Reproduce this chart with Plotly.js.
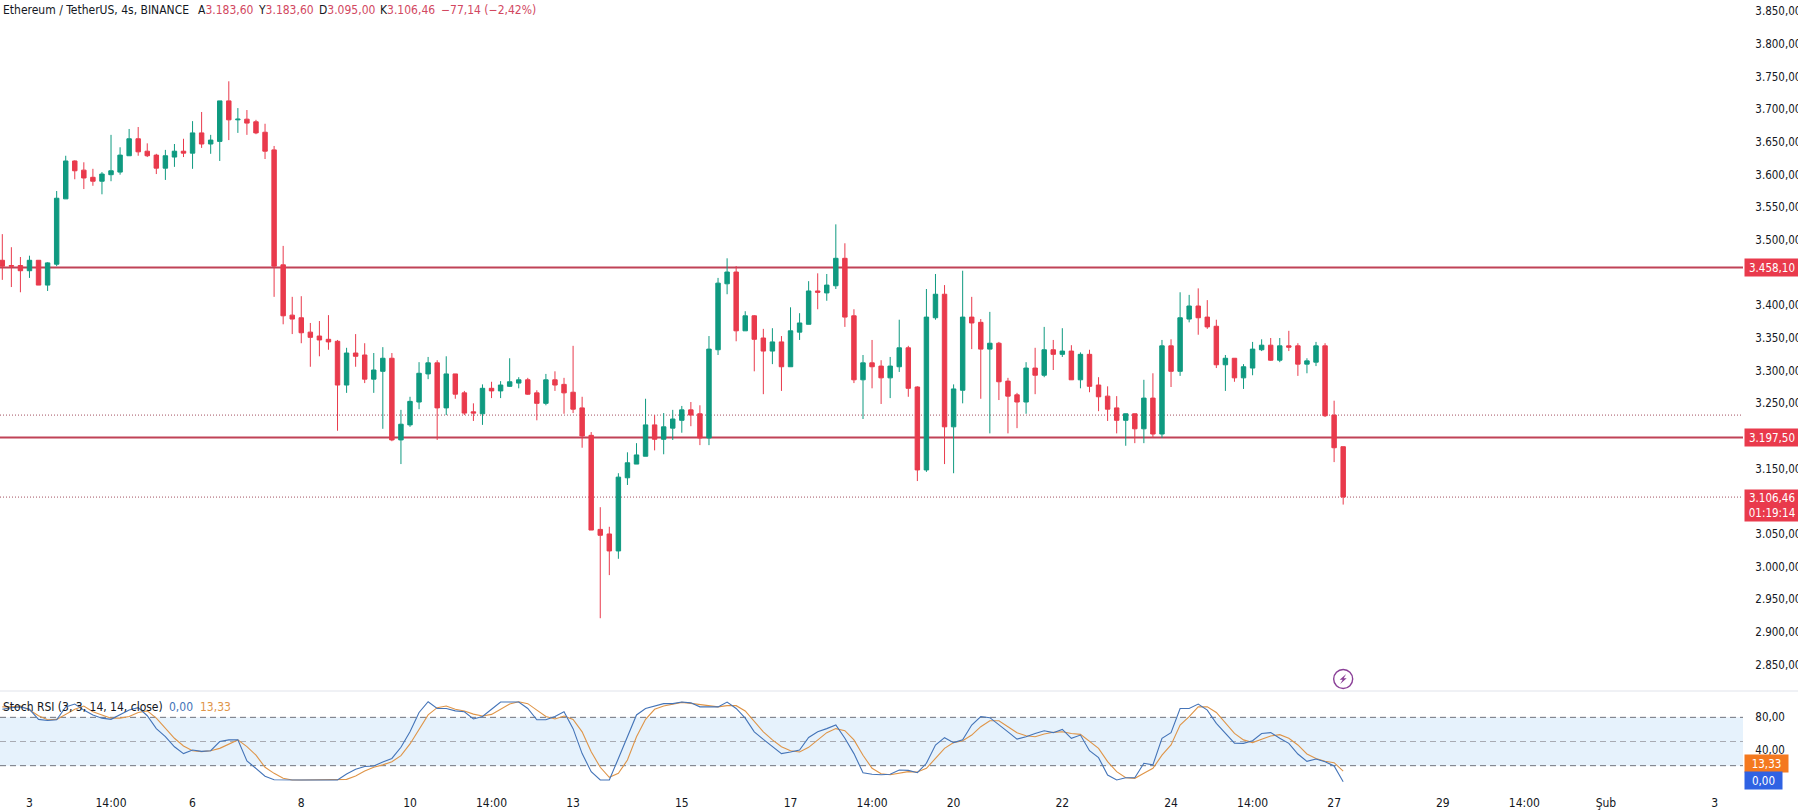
<!DOCTYPE html>
<html><head><meta charset="utf-8">
<script src="https://cdn.plot.ly/plotly-3.0.1.min.js"></script>
<style>html,body{margin:0;padding:0;background:#fff;overflow:hidden}#c{width:1798px;height:810px}</style>
</head><body><div id="c"></div>
<script>
const opens=[3469,3461,3461,3453,3469,3431,3463,3563,3621,3607,
3596,3590,3600,3604,3629,3655,3636,3630,3610,3627,
3636,3633,3664,3647,3651,3713,3684,3685,3681,3665,
3638,3462,3385,3381,3359,3353,3348,3345,3278,3327,
3324,3287,3299,3319,3194,3217,3252,3295,3312,3243,
3295,3266,3237,3234,3273,3269,3276,3281,3286,3266,
3250,3286,3279,3267,3243,3201,3057,3050,3024,3136,
3157,3169,3217,3195,3212,3224,3240,3234,3197,3332,
3433,3451,3361,3384,3350,3330,3344,3306,3359,3371,
3422,3419,3430,3472,3384,3286,3312,3307,3289,3306,
3335,3275,3148,3381,3417,3214,3270,3382,3374,3333,
3342,3284,3263,3252,3304,3293,3332,3325,3330,3286,
3325,3278,3261,3243,3224,3234,3211,3258,3203,3338,
3299,3379,3399,3382,3368,3309,3319,3289,3304,3332,
3339,3316,3338,3338,3310,3313,3338,3232,3183.6];
const closes=[3460,3460,3453,3469,3431,3465,3564,3621,3606,3595,
3590,3601,3606,3630,3655,3635,3629,3610,3629,3636,
3633,3664,3647,3653,3713,3684,3685,3679,3664,3636,
3460,3384,3379,3358,3351,3347,3344,3278,3327,3322,
3287,3301,3319,3194,3218,3253,3296,3312,3243,3295,
3264,3235,3235,3273,3269,3278,3283,3286,3264,3250,
3286,3278,3266,3241,3200,3056,3048,3024,3137,3159,
3171,3217,3195,3214,3226,3240,3232,3197,3333,3434,
3451,3361,3384,3348,3330,3344,3306,3361,3373,3422,
3420,3431,3472,3382,3286,3312,3306,3289,3307,3335,
3273,3148,3382,3417,3214,3272,3382,3373,3333,3342,
3283,3261,3252,3304,3293,3332,3325,3330,3286,3325,
3276,3260,3241,3224,3234,3211,3258,3203,3338,3299,
3381,3399,3381,3367,3309,3319,3289,3306,3333,3339,
3316,3338,3336,3310,3315,3338,3231,3182,3106.46];
const highs=[3509,3489,3474,3476,3469,3466,3575,3629,3622,3619,
3609,3604,3661,3642,3670,3673,3648,3632,3638,3647,
3655,3682,3696,3661,3713,3743,3702,3699,3684,3678,
3644,3491,3413,3414,3373,3376,3385,3347,3335,3356,
3342,3327,3336,3327,3240,3260,3313,3321,3316,3322,
3295,3269,3250,3279,3283,3284,3319,3290,3289,3270,
3295,3299,3289,3338,3260,3206,3091,3061,3143,3175,
3189,3257,3232,3235,3240,3246,3252,3247,3353,3442,
3472,3460,3391,3385,3364,3365,3353,3397,3388,3437,
3449,3448,3524,3495,3394,3324,3347,3316,3321,3378,
3338,3276,3425,3448,3431,3279,3453,3413,3379,3390,
3344,3289,3266,3313,3335,3367,3347,3365,3339,3328,
3332,3290,3276,3261,3234,3234,3286,3296,3347,3348,
3420,3416,3426,3408,3378,3324,3319,3310,3344,3348,
3350,3350,3361,3342,3319,3344,3342,3254,3183.6];
const lows=[3439,3428,3420,3442,3431,3422,3460,3563,3593,3578,
3583,3570,3590,3600,3629,3629,3627,3601,3592,3612,
3627,3609,3641,3632,3621,3653,3664,3661,3662,3624,
3413,3371,3356,3342,3306,3322,3332,3208,3266,3306,
3281,3266,3211,3192,3157,3214,3241,3287,3194,3232,
3257,3232,3223,3217,3258,3258,3275,3273,3263,3224,
3247,3269,3234,3235,3182,3056,2921,2987,3012,3125,
3157,3169,3178,3172,3194,3205,3215,3186,3186,3324,
3417,3345,3361,3299,3264,3310,3269,3306,3347,3371,
3394,3407,3425,3367,3281,3226,3273,3249,3258,3298,
3260,3131,3145,3378,3157,3143,3250,3333,3257,3204,
3255,3204,3212,3234,3264,3290,3301,3321,3286,3273,
3267,3238,3223,3204,3185,3189,3189,3197,3197,3275,
3292,3374,3355,3364,3304,3269,3283,3272,3293,3330,
3315,3313,3330,3292,3296,3307,3229,3160,3095];
const stochK=[90,92,93,90,77.5,76,77,93,96.5,89,
83,79,77.5,83,89,92,82,66,56,43.5,
35,39.5,37.8,38.6,50,52,52,26,17,7,
2.6,2.2,2.2,2.2,2.2,2.2,2.2,2.2,9.7,15.5,
19,19.6,24.6,29,42.8,62,86,99.4,91,91,
88,87,78,81,90,99,99,99,91,77,
77,81,87,66,35,12.6,2.2,2.2,29,56,
83,91,94,97,97,99,98,93,93,93,
99,91,79,62,52.7,43.6,35,37,39.5,55,
62,66,70.5,54,35,11.3,9.3,8.8,9.3,14.6,
14.2,11.3,23,45.7,54.8,48.6,52,70.5,81,79.6,
71.3,62,53,56,60,63.4,61,65,54,58,
38.6,30,8.4,2.2,5,5,23,21,54,61,
91,91,96.5,89,72.5,60,48,47.7,51,60,
61,54,47.7,34.5,25.4,28.3,25,19.6,0];
const stochD=[93,93,94,89,82,77,77.5,84,90,94,
87,83,79,79,81,86,88,79,66,54,
44.4,38.6,37.4,38.6,41.5,46.5,52,43.6,33,18,
10.5,4.3,2.2,2.2,2.2,2.2,2.2,2.2,3,7.2,
13.4,18,21,25,32.4,47,65,83,92,94,
90,87.8,84,81.6,83.7,90,96.5,99.4,97,89,
81,78,81.6,77.5,62,37.4,18,5.5,10.5,27,
56,77.5,90,94,96,98.6,97.4,96,94.5,93,
94.5,94.5,88,74.6,62,52,43.6,38.6,37,42.8,
52,61,66,63.4,52,33,16.7,10,8.8,10.5,
12.6,12.2,16.7,29,41.5,48.6,51,58,68.4,75.8,
75.8,68.4,61,57.2,56,59.3,61.4,62.2,60,58.9,
49.8,41.5,25,12.6,5,4.3,10.5,16.7,33,45.7,
70.5,81,93,93,86,72.5,60,52,48.6,52.7,
56.8,58.5,54,45.7,34.5,29,25.4,23.7,13.33];
const timeTickBars=[3,12,21,33,45,54,63,75,87,96,105,117,129,138,147,159,168,177,189];
const timeTickLabels=["3","14:00","6","8","10","14:00","13","15","17","14:00","20","22","24","14:00","27","29","14:00","Şub","3"];
const priceTicks=[3850,3800,3750,3700,3650,3600,3550,3500,3400,3350,3300,3250,3150,3050,3000,2950,2900,2850];
const priceTickLabels=["3.850,00","3.800,00","3.750,00","3.700,00","3.650,00","3.600,00","3.550,00","3.500,00","3.400,00","3.350,00","3.300,00","3.250,00","3.150,00","3.050,00","3.000,00","2.950,00","2.900,00","2.850,00"];
const stochTicks=[80,40];
const stochTickLabels=["80,00","40,00"];
const stochBands=[80,50,20];
const resistance=3458.10, support=3197.50, prevClose=3232, lastClose=3106.46;

const FONT='"DejaVu Sans Condensed","DejaVu Sans",sans-serif', INK='#131722', RED='#e93a4c', GREEN='#0f9a80';
const PW=1743, PH=788;
const px=v=>v/PW, py=v=>(PH-v)/PH;
const bars=opens.map((_,i)=>i);
const traces=[
 {type:'candlestick',x:bars,open:opens,high:highs,low:lows,close:closes,xaxis:'x',yaxis:'y',whiskerwidth:0,
  increasing:{line:{color:GREEN,width:1},fillcolor:GREEN},decreasing:{line:{color:RED,width:1},fillcolor:RED},hoverinfo:'skip',showlegend:false},
 {type:'scatter',mode:'lines',x:bars,y:stochD,xaxis:'x',yaxis:'y2',line:{color:'#df9548',width:1.1},hoverinfo:'skip',showlegend:false},
 {type:'scatter',mode:'lines',x:bars,y:stochK,xaxis:'x',yaxis:'y2',line:{color:'#4474b8',width:1.1},hoverinfo:'skip',showlegend:false}
];
const hline=(v,style)=>({type:'line',xref:'paper',x0:0,x1:1,yref:'y',y0:v,y1:v,layer:'below',line:style});
const shapes=[
 hline(resistance,{color:'#c04257',width:2}),
 hline(support,{color:'#c04257',width:2}),
 hline(prevClose,{color:'#a2505f',width:1,dash:'1px,2px'}),
 hline(lastClose,{color:'#a2505f',width:1,dash:'1px,2px'}),
 {type:'rect',xref:'paper',x0:0,x1:1,yref:'y2',y0:stochBands[2],y1:stochBands[0],layer:'below',fillcolor:'#e6f2fc',line:{width:0}},
 ...stochBands.map((v,k)=>({type:'line',xref:'paper',x0:0,x1:1,yref:'y2',y0:v,y1:v,layer:'below',line:{color:k==1?'#a8abb3':'#6f727c',width:1,dash:'6px,4px'}})),
 {type:'line',xref:'paper',x0:0,x1:1798/PW,yref:'paper',y0:py(691),y1:py(691),line:{color:'#e0e3eb',width:1}},
 {type:'circle',xref:'x',yref:'y',xsizemode:'pixel',ysizemode:'pixel',xanchor:148,yanchor:2828,x0:-9.5,x1:9.5,y0:-9.5,y1:9.5,line:{color:'#8a3f97',width:1.4},fillcolor:'rgba(0,0,0,0)'},
 {type:'path',xref:'x',yref:'y',xsizemode:'pixel',ysizemode:'pixel',xanchor:148,yanchor:2828,path:'M 3 5 L -3.5 -0.8 L -0.5 -0.8 L -3 -5 L 3.5 0.8 L 0.5 0.8 Z',fillcolor:'#8a3f97',line:{width:0}}
];
const txt=(x,y,text,color,size)=>({xref:'paper',yref:'paper',x:px(x),y:py(y),xanchor:'left',yanchor:'middle',text,showarrow:false,align:'left',font:{family:FONT,size:size||12,color:color||INK},borderpad:0});
const VAL='#d2485f';
const tag=(y,yref,text,bg,w,h,opt)=>Object.assign({xref:'paper',x:1,xanchor:'left',xshift:1,yref,y,yanchor:'middle',text,showarrow:false,bgcolor:bg,width:w,height:h,align:'center',font:{family:FONT,size:11.5,color:'#fff'},borderpad:0},opt||{});
const annotations=[
 txt(2,10.5,'Ethereum / TetherUS, 4s, BINANCE'),
 txt(196.5,10.5,'A<span style="color:'+VAL+'">3.183,60</span>'),
 txt(257,10.5,'Y<span style="color:'+VAL+'">3.183,60</span>'),
 txt(318,10.5,'D<span style="color:'+VAL+'">3.095,00</span>'),
 txt(379,10.5,'K<span style="color:'+VAL+'">3.106,46</span>'),
 txt(440,10.5,'−77,14 (−2,42%)',VAL),
 txt(2,707,'Stoch RSI (3, 3, 14, 14, close)'),
 txt(168,707,'0,00','#4474b8'),
 txt(199,707,'13,33','#df9548'),
 tag(resistance,'y','3.458,10',RED,54,17),
 tag(support,'y','3.197,50',RED,54,17),
 tag(lastClose,'y','3.106,46<br>01:19:14',RED,54,31,{yanchor:'top',yshift:8}),
 tag(py(763.3),'paper','13,33','#f4791f',43,17),
 tag(py(780.3),'paper','0,00','#2f62e3',37,17)
];
const layout={width:1798,height:810,margin:{l:0,r:55,t:0,b:22,pad:0},paper_bgcolor:'#fff',plot_bgcolor:'#fff',showlegend:false,
 boxgap:0.3,
 font:{family:FONT,size:12,color:INK},
 xaxis:{domain:[0,1],range:[-0.254,192.13],anchor:'y2',tickmode:'array',tickvals:timeTickBars,ticktext:timeTickLabels,showgrid:false,zeroline:false,showline:false,ticks:'outside',ticklen:4,tickcolor:'rgba(0,0,0,0)',tickfont:{family:FONT,size:12,color:INK},rangeslider:{visible:false},tickangle:0},
 yaxis:{domain:[(PH-691)/PH,1],range:[2809.6,3867.45],side:'right',anchor:'x',tickmode:'array',tickvals:priceTicks,ticktext:priceTickLabels,showgrid:false,zeroline:false,showline:false,ticks:'outside',ticklen:9,tickcolor:'rgba(0,0,0,0)',tickfont:{family:FONT,size:11.5,color:INK}},
 yaxis2:{domain:[0,(PH-691)/PH],range:[-7.7,112.7],side:'right',anchor:'x',tickmode:'array',tickvals:stochTicks,ticktext:stochTickLabels,showgrid:false,zeroline:false,showline:false,ticks:'outside',ticklen:9,tickcolor:'rgba(0,0,0,0)',tickfont:{family:FONT,size:11.5,color:INK}},
 shapes,annotations};
Plotly.newPlot('c',traces,layout,{displayModeBar:false,staticPlot:true});
</script></body></html>
